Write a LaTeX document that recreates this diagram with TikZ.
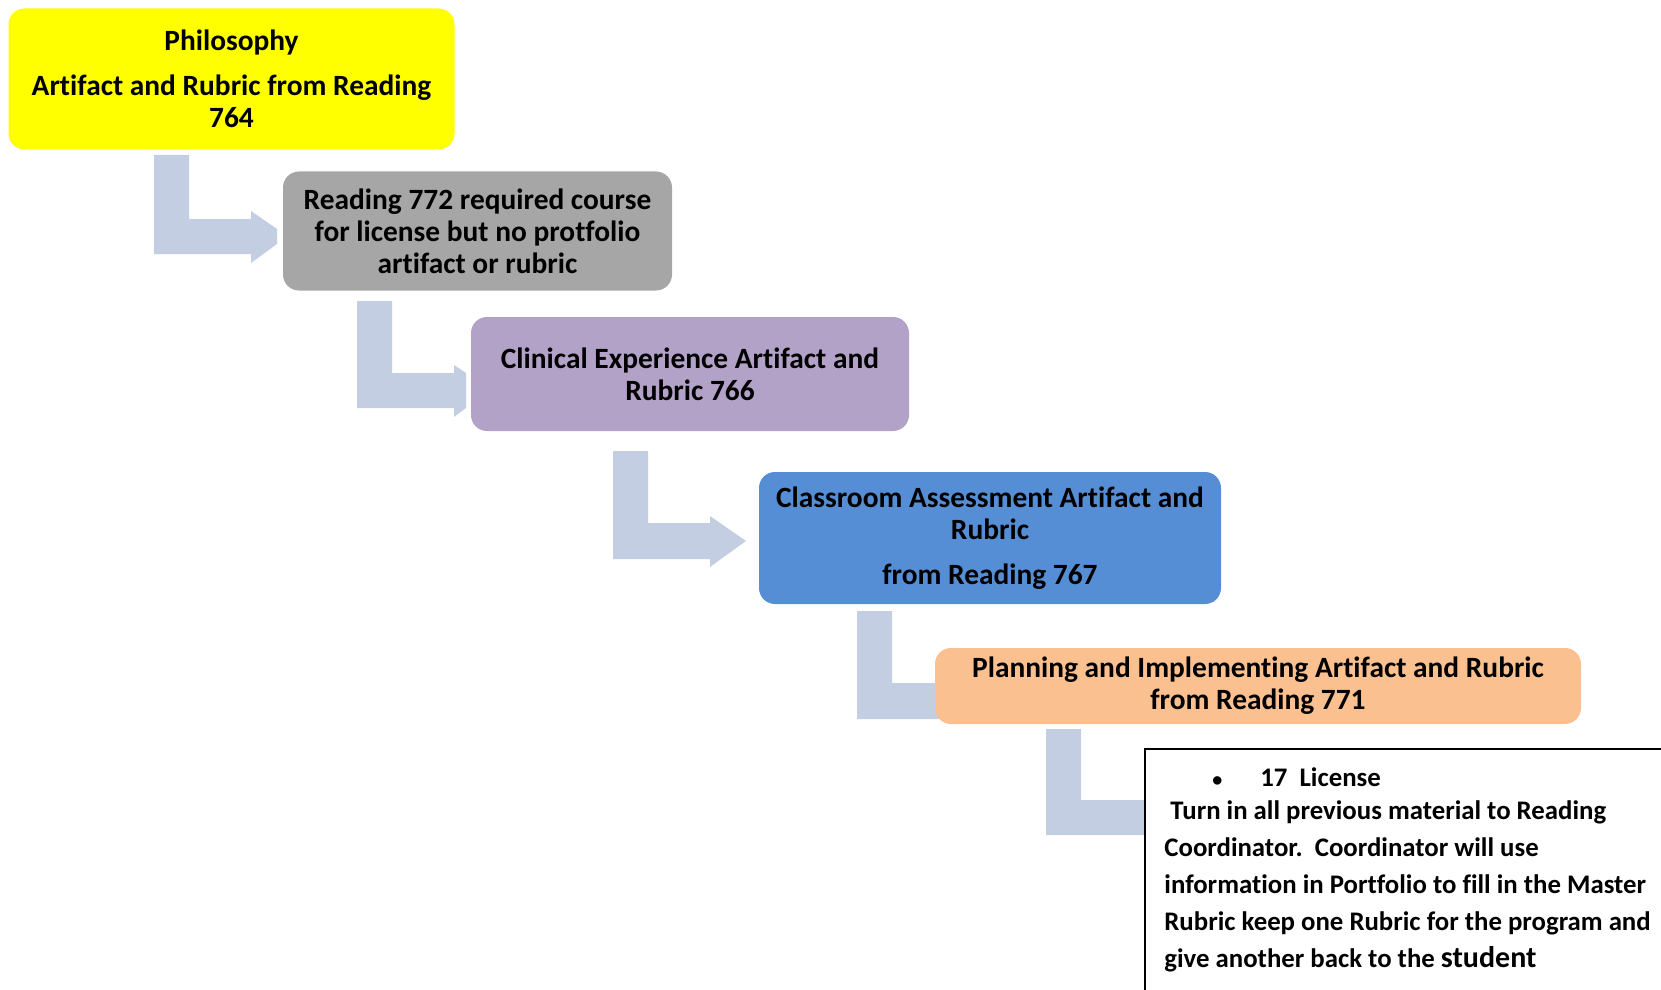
\documentclass[tikz,border=0pt]{standalone}
\usepackage{fontspec}
\setmainfont{Carlito}[Ligatures=NoCommon]
\usetikzlibrary{positioning, backgrounds}
\definecolor{philyellow}{HTML}{FFFF00}
\definecolor{coursegray}{HTML}{A6A6A6}
\definecolor{clinicpurple}{HTML}{B3A2C7}
\definecolor{assessblue}{HTML}{558ED5}
\definecolor{planorange}{HTML}{FAC090}
\definecolor{bendblue}{HTML}{C4CEE3}

\begin{document}
\begin{tikzpicture}
    %defining some styles
    [
        x=0.5pt, y=-0.5pt,
        stage/.style={rectangle, rounded corners=8pt, align=center, inner sep=0pt,
            font=\fontsize{14.7}{16}\selectfont\bfseries},
        bendarrow/.style={fill=bendblue},
    ]
    \useasboundingbox (0,0) rectangle (1661,990);
    \clip (0,0) rectangle (1661,990);

    \node[stage, fill=philyellow, minimum width=223pt, minimum height=70.5pt] (philosophy) at (231.5,79)
        {Philosophy\\[6.5pt]Artifact and Rubric from Reading\\764};
    \node[stage, fill=coursegray, minimum width=194.5pt, minimum height=59.5pt] (reading) at (477.5,231)
        {Reading 772 required course\\for license but no protfolio\\artifact or rubric};
    \node[stage, fill=clinicpurple, minimum width=219pt, minimum height=57pt] (clinical) at (690,374)
        {Clinical Experience Artifact and\\Rubric 766};
    \node[stage, fill=assessblue, minimum width=231pt, minimum height=66pt] (assessment) at (990,538)
        {Classroom Assessment Artifact and\\Rubric\\[6.5pt]from Reading 767};
    \node[stage, fill=planorange, minimum width=323pt, minimum height=38pt] (planning) at (1258,686)
        {Planning and Implementing Artifact and Rubric\\from Reading 771};

    \node[draw=black, line width=1pt, fill=white, anchor=north west, inner sep=0pt,
        minimum width=300pt, minimum height=150pt] (license) at (1144,748) {};
    \node[anchor=north west, align=left, inner sep=0pt,
        font=\fontsize{13.4}{18.5}\selectfont\bfseries] (licensetext) at (1164,767)
        {\hspace*{24pt}{\fontsize{10}{10}\selectfont\textbullet}\hspace{19pt}17~~License\\[-2pt]
         \ Turn in all previous material to Reading\\
         Coordinator.~~Coordinator will use\\
         information in Portfolio to fill in the Master\\
         Rubric keep one Rubric for the program and\\
         give another back to the {\fontsize{15}{18.5}\selectfont student}};

    % bent arrows between the stages
    \begin{scope}[on background layer]
        \fill[bendarrow] (154,155) -- (189,155) -- (189,219) -- (251,219) -- (251,211)
            -- (277,229) -- (277,244) -- (251,263) -- (251,254) -- (154,254) -- cycle;
        \fill[bendarrow] (357,301) -- (392,301) -- (392,373) -- (454,373) -- (454,365)
            -- (466,373) -- (466,408) -- (454,417) -- (454,408) -- (357,408) -- cycle;
        \fill[bendarrow] (613,451) -- (648,451) -- (648,523) -- (710,523) -- (710,516)
            -- (746,541) -- (710,567) -- (710,559) -- (613,559) -- cycle;
        \fill[bendarrow] (857,611) -- (892,611) -- (892,683) -- (940,683)
            -- (940,719) -- (857,719) -- cycle;
        \fill[bendarrow] (1046,729) -- (1081,729) -- (1081,800) -- (1150,800)
            -- (1150,835) -- (1046,835) -- cycle;
    \end{scope}
\end{tikzpicture}
\end{document}
